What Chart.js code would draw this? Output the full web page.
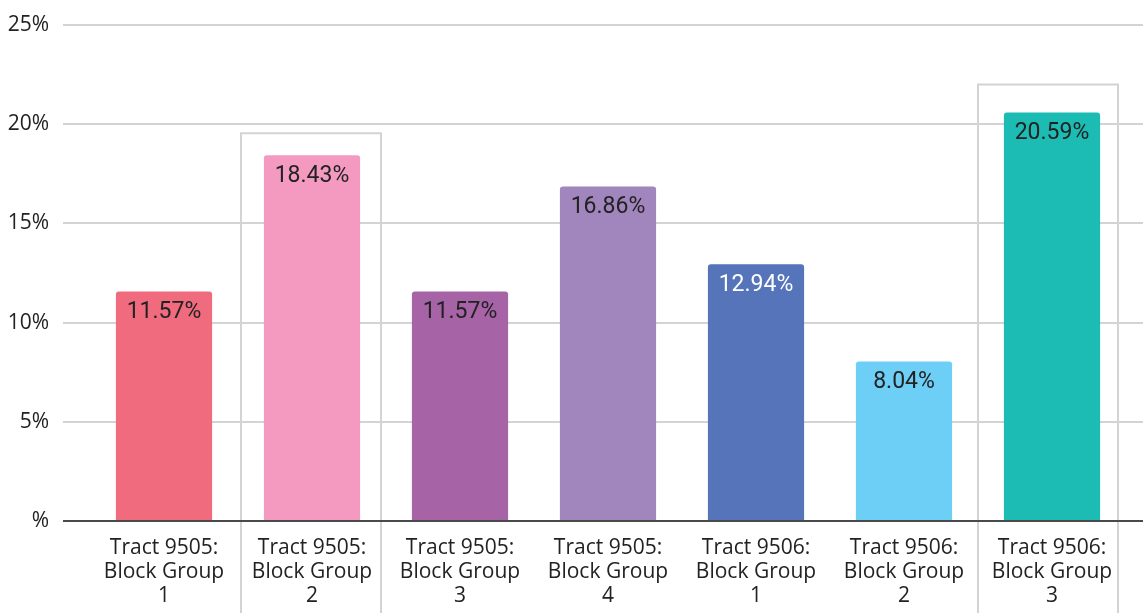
<!DOCTYPE html>
<html lang="en">
<head>
    <meta charset="UTF-8">
    <title>Block Groups</title>
    <script src="https://cdn.jsdelivr.net/npm/chart.js"></script>
    <style>
        html, body { margin: 0; padding: 0; background: #fff; }
        .campo_grafico { width: 1143px; height: 613px; position: relative; }
    </style>
</head>
<body>
    <div class="campo_grafico">
        <canvas id="grafico"></canvas>
    </div>

<script>
    // dados
    const categorias = [
        ['Tract 9505:', 'Block Group', '1'],
        ['Tract 9505:', 'Block Group', '2'],
        ['Tract 9505:', 'Block Group', '3'],
        ['Tract 9505:', 'Block Group', '4'],
        ['Tract 9506:', 'Block Group', '1'],
        ['Tract 9506:', 'Block Group', '2'],
        ['Tract 9506:', 'Block Group', '3']
    ];
    const valores = [11.57, 18.43, 11.57, 16.86, 12.94, 8.04, 20.59];
    const ticksY = [0, 5, 10, 15, 20, 25];
    const destaques = [1, 6]; // barras com caixa em volta

    const coresBarras = ['#F06B7E', '#F49AC1', '#A663A6', '#A086BC', '#5574BA', '#6DCFF6', '#1CBBB4'];
    const coresTexto = ['#222', '#222', '#222', '#222', '#fff', '#222', '#222'];
    // folga (px) das caixas acima da barra e deslocamento horizontal
    const folgaCaixa = [22, 28];
    const desvioCaixa = [-1, -4];

    // linhas de grade e caixas de destaque
    const pluginFundo = {
        id: 'fundo',
        beforeDatasetsDraw(chart) {
            const ctx = chart.ctx;
            const y = chart.scales.y;
            const x = chart.scales.x;
            const meta = chart.getDatasetMeta(0);
            ctx.save();
            ctx.lineWidth = 2;
            ctx.strokeStyle = '#d3d3d3';
            ticksY.forEach(function (v) {
                if (v === 0) return;
                const py = Math.round(y.getPixelForValue(v));
                ctx.beginPath();
                ctx.moveTo(63, py);
                ctx.lineTo(chart.width, py);
                ctx.stroke();
            });
            destaques.forEach(function (i, k) {
                const cx = x.getPixelForValue(i) + desvioCaixa[k];
                const topo = meta.data[i].y - folgaCaixa[k];
                ctx.beginPath();
                ctx.moveTo(cx - 70, chart.height);
                ctx.lineTo(cx - 70, topo);
                ctx.lineTo(cx + 70, topo);
                ctx.lineTo(cx + 70, chart.height);
                ctx.stroke();
            });
            ctx.restore();
        },
        afterDatasetsDraw(chart) {
            const ctx = chart.ctx;
            const y = chart.scales.y;
            const meta = chart.getDatasetMeta(0);
            ctx.save();
            // linha do zero
            const py0 = Math.round(y.getPixelForValue(0));
            ctx.lineWidth = 2;
            ctx.strokeStyle = '#4a4a4a';
            ctx.beginPath();
            ctx.moveTo(63, py0);
            ctx.lineTo(chart.width, py0);
            ctx.stroke();
            // rotulos dos valores
            ctx.font = '23px Roboto';
            ctx.textAlign = 'center';
            ctx.textBaseline = 'middle';
            meta.data.forEach(function (barra, i) {
                ctx.fillStyle = coresTexto[i];
                ctx.fillText(valores[i].toFixed(2) + '%', barra.x, barra.y + 21);
            });
            ctx.restore();
        }
    };

    new Chart(document.getElementById('grafico'), {
        type: 'bar',
        data: {
            labels: categorias,
            datasets: [{
                data: valores,
                backgroundColor: coresBarras,
                borderRadius: 3,
                borderSkipped: 'bottom',
                barPercentage: 0.65,
                categoryPercentage: 1
            }]
        },
        options: {
            responsive: true,
            maintainAspectRatio: false,
            animation: false,
            layout: { padding: { top: 25, right: 17, left: 0, bottom: 0 } },
            plugins: {
                legend: { display: false },
                tooltip: { enabled: false }
            },
            scales: {
                x: {
                    grid: { display: false, drawTicks: false },
                    border: { display: false },
                    ticks: {
                        color: '#222',
                        font: { family: 'Open Sans', size: 21, lineHeight: 1.15 },
                        padding: 15,
                        maxRotation: 0,
                        autoSkip: false
                    },
                    afterFit: function (s) { s.height = 92; }
                },
                y: {
                    min: 0,
                    max: 25,
                    grid: { display: false, drawTicks: false },
                    border: { display: false },
                    afterBuildTicks: function (s) {
                        s.ticks = ticksY.map(function (v) { return { value: v }; });
                    },
                    ticks: {
                        color: '#222',
                        font: { family: 'Open Sans', size: 21 },
                        padding: 41,
                        callback: function (v) { return v === 0 ? '%' : v + '%'; }
                    },
                    afterFit: function (s) {
                        s.width = 90;
                        s.paddingTop = 0;
                        s.paddingBottom = 0;
                    }
                }
            }
        },
        plugins: [pluginFundo]
    });
</script>
</body>
</html>
